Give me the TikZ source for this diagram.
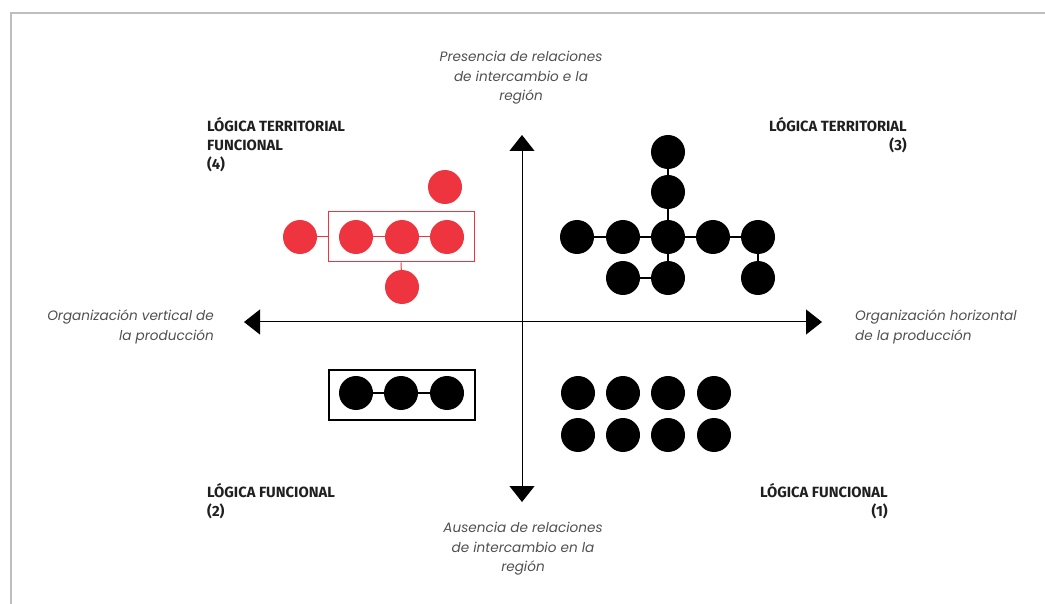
\documentclass[tikz,border=0pt]{standalone}
\usepackage{fontspec}
\setmainfont{Fira Sans}
\newfontfamily\axfont{Poppins}
\usetikzlibrary{arrows.meta}
\definecolor{rd}{RGB}{238,52,62}
\definecolor{axgray}{RGB}{80,80,80}
\definecolor{framegray}{RGB}{190,190,190}
\tikzset{
  bd/.style={circle,fill=black,inner sep=0pt,minimum size=34pt},
  rdot/.style={circle,fill=rd,inner sep=0pt,minimum size=34pt},
  blink/.style={line width=2pt,black},
  rlink/.style={line width=1pt,rd},
  axtext/.style={font=\axfont\itshape\fontsize{13.6}{19.5}\selectfont,text=axgray,inner sep=0pt},
  lbl/.style={font=\bfseries\fontsize{14.8}{19}\selectfont,text=black!88,inner sep=0pt},
  axis/.style={line width=1pt,{Triangle[width=25pt,length=16pt]}-{Triangle[width=25pt,length=16pt]}}
}
\begin{document}
\begin{tikzpicture}[x=1pt,y=-1pt]
\useasboundingbox (0,0) rectangle (1045,604);
% frame
\coordinate (fa) at (11,604);
\coordinate (fb) at (11,13);
\coordinate (fc) at (1045,13);
\draw[framegray,line width=1.5pt] (fa) -- (fb) -- (fc);
% axes
\coordinate (N) at (522,135);
\coordinate (S) at (522,502);
\coordinate (W) at (244,322);
\coordinate (E) at (822,322);
\draw[axis] (N) -- (S);
\draw[axis] (W) -- (E);
% axis texts
\node[axtext,align=center] (tN) at (521,78) {Presencia de relaciones\\de intercambio e la\\región};
\node[axtext,align=center] (tS) at (523,549) {Ausencia de relaciones\\de intercambio en la\\región};
\node[axtext,align=right,anchor=east] (tW) at (214,327) {Organización vertical de\\la producción};
\node[axtext,align=left,anchor=west] (tE) at (855,327) {Organización horizontal\\de la producción};
% quadrant labels
\node[lbl,align=left,anchor=west] (q4) at (207,145) {LÓGICA TERRITORIAL\\FUNCIONAL\\(4)};
\node[lbl,align=right,anchor=east] (q3) at (907,135.5) {LÓGICA TERRITORIAL\\(3)};
\node[lbl,align=left,anchor=west] (q2) at (207,501) {LÓGICA FUNCIONAL\\(2)};
\node[lbl,align=right,anchor=east] (q1) at (888,501) {LÓGICA FUNCIONAL\\(1)};
% red cluster (4)
\node[draw=rd,line width=1pt,minimum width=146pt,minimum height=50pt,inner sep=0pt] (rbox) at (401,237) {};
\node[rdot] (r0) at (300,237) {};
\node[rdot] (r1) at (356,237) {};
\node[rdot] (r2) at (402,237) {};
\node[rdot] (r3) at (447,237) {};
\node[rdot] (rt) at (445,187) {};
\node[rdot] (rb) at (402,287) {};
\draw[rlink] (r0) -- (rbox.west);
\draw[rlink] (r1) -- (r2);
\draw[rlink] (r2) -- (r3);
\draw[rlink] (rbox.south) -- (rb);
% black cluster (3)
\node[bd] (t1) at (668,152) {};
\node[bd] (t2) at (668,192) {};
\node[bd] (m1) at (577,237) {};
\node[bd] (m2) at (623,237) {};
\node[bd] (m3) at (668,237) {};
\node[bd] (m4) at (713,237) {};
\node[bd] (m5) at (758,237) {};
\node[bd] (b2) at (623,278) {};
\node[bd] (b3) at (668,278) {};
\node[bd] (b5) at (758,278) {};
\draw[blink] (t1) -- (t2);
\draw[blink] (t2) -- (m3);
\draw[blink] (m1) -- (m2);
\draw[blink] (m2) -- (m3);
\draw[blink] (m3) -- (m4);
\draw[blink] (m4) -- (m5);
\draw[blink] (m3) -- (b3);
\draw[blink] (b2) -- (b3);
\draw[blink] (m5) -- (b5);
% boxed chain (2)
\node[draw=black,line width=2pt,minimum width=146pt,minimum height=50pt,inner sep=0pt] (kbox) at (401.5,394.5) {};
\node[bd] (k1) at (356,393) {};
\node[bd] (k2) at (401,393) {};
\node[bd] (k3) at (447,393) {};
\draw[line width=1.2pt] (k1) -- (k2);
\draw[line width=1.2pt] (k2) -- (k3);
% grid (1)
\foreach \i/\x in {1/578,2/623,3/668,4/714}{
  \node[bd] (ga\i) at (\x,393) {};
  \node[bd] (gb\i) at (\x,435) {};
}
\end{tikzpicture}
\end{document}
